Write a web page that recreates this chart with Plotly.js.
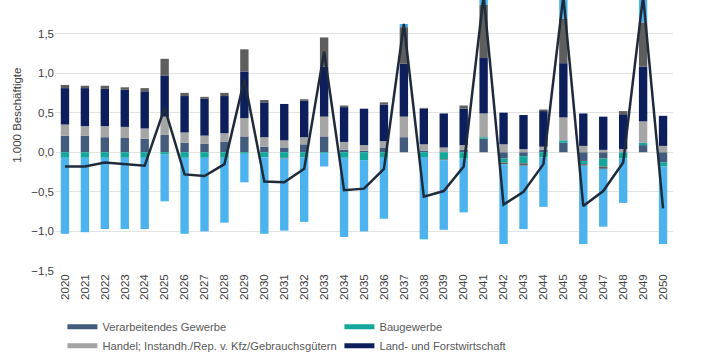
<!DOCTYPE html>
<html>
<head>
<meta charset="utf-8">
<script src="https://cdn.plot.ly/plotly-3.0.1.min.js"></script>
<style>html,body{margin:0;padding:0;background:#fff;}#chart{width:707px;height:354px;}</style>
</head>
<body>
<div id="chart"></div>
<script>
const years = ['2020','2021','2022','2023','2024','2025','2026','2027','2028','2029','2030','2031','2032','2033','2034','2035','2036','2037','2038','2039','2040','2041','2042','2043','2044','2045','2046','2047','2048','2049','2050'];

const verarbeitendesGewerbe = [0.21,0.21,0.19,0.18,0.17,0.22,0.12,0.11,0.13,0.20,0.07,0.06,0.10,0.20,0.03,0.02,0.06,0.19,0.02,0.01,0.03,0.17,-0.08,-0.05,0.03,0.12,-0.11,-0.08,0.00,0.09,-0.13];
const baugewerbe = [-0.07,-0.07,-0.07,-0.07,-0.07,-0.03,-0.07,-0.07,-0.07,-0.02,-0.065,-0.07,-0.065,-0.01,-0.07,-0.10,-0.07,0.00,-0.06,-0.09,-0.08,0.02,-0.05,-0.09,-0.065,0.03,-0.04,-0.10,-0.08,0.03,-0.05];
const handel = [0.14,0.12,0.14,0.14,0.13,0.23,0.13,0.10,0.11,0.23,0.12,0.09,0.09,0.25,0.10,0.07,0.08,0.26,0.08,0.05,0.06,0.30,0.10,0.04,0.04,0.29,0.08,0.03,0.04,0.27,0.08];
const landForst = [0.46,0.48,0.47,0.47,0.47,0.52,0.46,0.47,0.47,0.59,0.44,0.46,0.46,0.63,0.44,0.46,0.46,0.67,0.45,0.43,0.46,0.70,0.40,0.43,0.45,0.685,0.41,0.42,0.44,0.69,0.38];
const sonstigeDunkel = [0.04,0.03,0.04,0.03,0.04,0.21,0.04,0.02,0.04,0.28,0.03,-0.01,0.02,0.37,0.02,0.00,0.03,0.46,0.01,-0.01,0.04,0.67,-0.02,-0.03,0.02,0.565,-0.02,-0.03,0.04,0.56,0.00];
const sonstigeHell = [-0.96,-0.94,-0.90,-0.90,-0.90,-0.59,-0.96,-0.93,-0.82,-0.36,-0.965,-0.91,-0.815,-0.17,-1.00,-0.90,-0.77,0.04,-1.04,-0.88,-0.68,0.12,-1.01,-0.80,-0.625,0.28,-0.99,-0.73,-0.56,0.33,-0.98];
const gesamt = [-0.18,-0.18,-0.13,-0.15,-0.17,0.56,-0.28,-0.30,-0.15,0.92,-0.37,-0.38,-0.21,1.27,-0.48,-0.46,-0.21,1.62,-0.56,-0.49,-0.18,1.98,-0.66,-0.50,-0.15,1.97,-0.68,-0.49,-0.13,1.97,-0.71];

const seriesNames = ['Verarbeitendes Gewerbe','Baugewerbe','Handel; Instandh./Rep. v. Kfz/Gebrauchsgütern','Land- und Forstwirtschaft','Sonstige (dunkel)','Sonstige (hell)','Gesamt'];
const colors = ['#435b7c','#14a89c','#a5a5a5','#0c1f5c','#5e5e5e','#4cb3ee','#1f2b3a'];

const barData = [verarbeitendesGewerbe, baugewerbe, handel, landForst, sonstigeDunkel, sonstigeHell];
const traces = barData.map((vals, i) => ({
  type: 'bar', x: years, y: vals, name: seriesNames[i],
  marker: {color: colors[i], line: {width: 0}},
  showlegend: false, hoverinfo: 'skip'
}));
traces.push({
  type: 'scatter', mode: 'lines', x: years, y: gesamt, name: seriesNames[6],
  line: {color: colors[6], width: 2.5}, showlegend: false
});
// legend entries (line-style swatches like the reference)
[0,1,2,3].forEach(i => traces.push({
  type: 'scatter', mode: 'lines', x: [null], y: [null], name: seriesNames[i],
  line: {color: colors[i], width: 5}, showlegend: true
}));

const layout = {
  width: 707, height: 354,
  margin: {l: 55, r: 34, t: 0, b: 83, autoexpand: false},
  paper_bgcolor: '#ffffff', plot_bgcolor: '#ffffff',
  barmode: 'relative', bargap: 0.58,
  separators: ',.',
  font: {family: 'Liberation Sans, Arial, sans-serif', size: 11, color: '#595959'},
  xaxis: {
    type: 'category', tickangle: -90, showgrid: false, zeroline: false, showline: false,
    ticks: '', tickfont: {size: 11.5, color: '#404040'}, fixedrange: true
  },
  yaxis: {
    range: [-1.5, 1.923], dtick: 0.5, tick0: 0, tickformat: '.1f',
    showgrid: true, gridcolor: '#e3e3e3', gridwidth: 1, zeroline: false, showline: false,
    ticks: '', tickfont: {size: 11.5, color: '#404040'}, fixedrange: true
  },
  legend: {
    orientation: 'h', x: 0.012, xanchor: 'left', y: -0.152, yanchor: 'top',
    entrywidth: 232, entrywidthmode: 'pixels', itemwidth: 30,
    font: {size: 11.2, color: '#595959'}, tracegroupgap: 0, bgcolor: 'rgba(0,0,0,0)'
  },
  annotations: [{
    text: '1.000 Beschäftigte', xref: 'paper', yref: 'y', x: 0, y: 0.46,
    xshift: -46, textangle: -90, showarrow: false,
    font: {size: 11.5, color: '#404040'}
  }]
};

Plotly.newPlot('chart', traces, layout, {displayModeBar: false, staticPlot: true});
</script>
</body>
</html>
